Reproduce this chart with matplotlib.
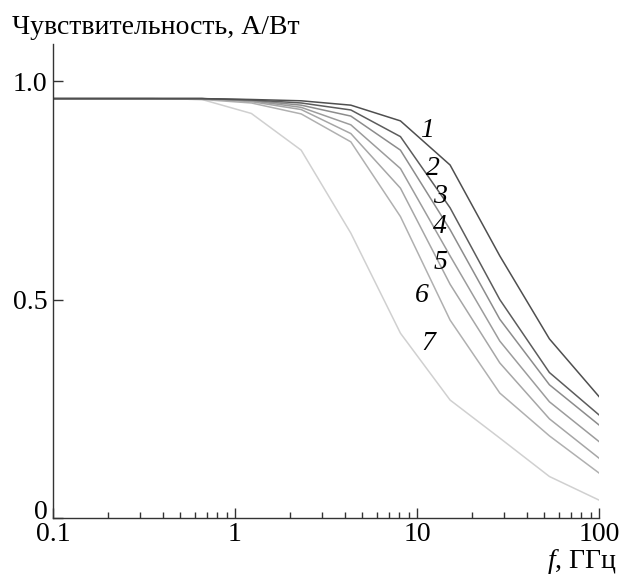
import numpy as np
import matplotlib.pyplot as plt
import matplotlib.transforms as mtransforms
from matplotlib.ticker import FixedLocator, NullFormatter

plt.rcParams['font.family'] = ['Liberation Serif', 'DejaVu Serif']
plt.rcParams['mathtext.fontset'] = 'custom'
plt.rcParams['mathtext.it'] = 'Liberation Serif:italic'
plt.rcParams['mathtext.rm'] = 'Liberation Serif'

# frequency points, GHz
freq = [0.1, 0.188, 0.352, 0.658, 1.23, 2.31, 4.33, 8.11, 15.2, 28.5, 53.4, 100]

# sensitivity, A/W, curves 1..7
s1 = [0.96, 0.96, 0.96, 0.96, 0.958, 0.955, 0.945, 0.909, 0.808, 0.600, 0.410, 0.278]
s2 = [0.96, 0.96, 0.96, 0.96, 0.957, 0.950, 0.934, 0.873, 0.710, 0.500, 0.333, 0.236]
s3 = [0.96, 0.96, 0.96, 0.96, 0.956, 0.945, 0.920, 0.842, 0.660, 0.455, 0.305, 0.213]
s4 = [0.96, 0.96, 0.96, 0.96, 0.955, 0.940, 0.900, 0.800, 0.600, 0.405, 0.266, 0.175]
s5 = [0.96, 0.96, 0.96, 0.96, 0.953, 0.935, 0.880, 0.755, 0.535, 0.355, 0.227, 0.137]
s6 = [0.96, 0.96, 0.96, 0.958, 0.950, 0.925, 0.861, 0.690, 0.453, 0.286, 0.188, 0.103]
s7 = [0.96, 0.96, 0.96, 0.958, 0.926, 0.842, 0.652, 0.423, 0.270, 0.183, 0.095, 0.041]
curves = [s1, s2, s3, s4, s5, s6, s7]
names = ["1", "2", "3", "4", "5", "6", "7"]

greys = ["#4f4f4f", "#5c5c5c", "#8c8c8c", "#9c9c9c", "#a6a6a6", "#b0b0b0", "#d0d0d0"]
# where the curve numbers sit (data coords)
label_pos = [(11.4, 0.886), (12.2, 0.80), (13.4, 0.737), (13.4, 0.668),
             (13.4, 0.584), (10.6, 0.51), (11.5, 0.40)]

fs = 20

fig = plt.figure(figsize=(6.19, 5.76), dpi=100)
ax = fig.add_axes([53 / 619, 58 / 576, 546 / 619, 474 / 576])

for y, c in zip(curves[::-1], greys[::-1]):
    ax.plot(freq, y, color=c, lw=1.1)

for n, (x, y) in zip(names, label_pos):
    ax.text(x, y, n, fontsize=fs, style='italic', ha='center', va='center')

ax.set_xscale('log')
ax.set_xlim(0.1, 100)
ax.set_ylim(0, 1.085)
ax.set_xticks([0.1, 1, 10, 100])
ax.set_xticklabels(["0.1", "1", "10", "100"])
ax.xaxis.set_minor_locator(FixedLocator(
    [m * d for d in (0.1, 1, 10) for m in range(2, 10)]))
ax.xaxis.set_minor_formatter(NullFormatter())
ax.set_yticks([0, 0.5, 1.0])
ax.set_yticklabels(["0", "0.5", "1.0"])

for s in ['top', 'right']:
    ax.spines[s].set_visible(False)
for s in ['left', 'bottom']:
    ax.spines[s].set_color('#333333')
    ax.spines[s].set_linewidth(1.0)

ax.tick_params(which='major', direction='in', length=7.5, width=1,
               color='#333333', labelsize=fs)
ax.tick_params(which='minor', direction='in', length=4.5, width=1,
               color='#333333')
ax.tick_params(axis='x', pad=3)
ax.tick_params(axis='y', pad=4)

# lift the "0" a little so it clears "0.1"
zero = ax.get_yticklabels()[0]
zero.set_transform(zero.get_transform() +
                   mtransforms.ScaledTranslation(0, 6 / 72, fig.dpi_scale_trans))

fig.text(12 / 619, 1 - 34 / 576, "Чувствительность, А/Вт", fontsize=fs,
         va='baseline', ha='left')
fig.text(617 / 619, 1 - 568 / 576, r"$f$, ГГц", fontsize=fs,
         va='baseline', ha='right')

fig.savefig("out.png", dpi=100)
